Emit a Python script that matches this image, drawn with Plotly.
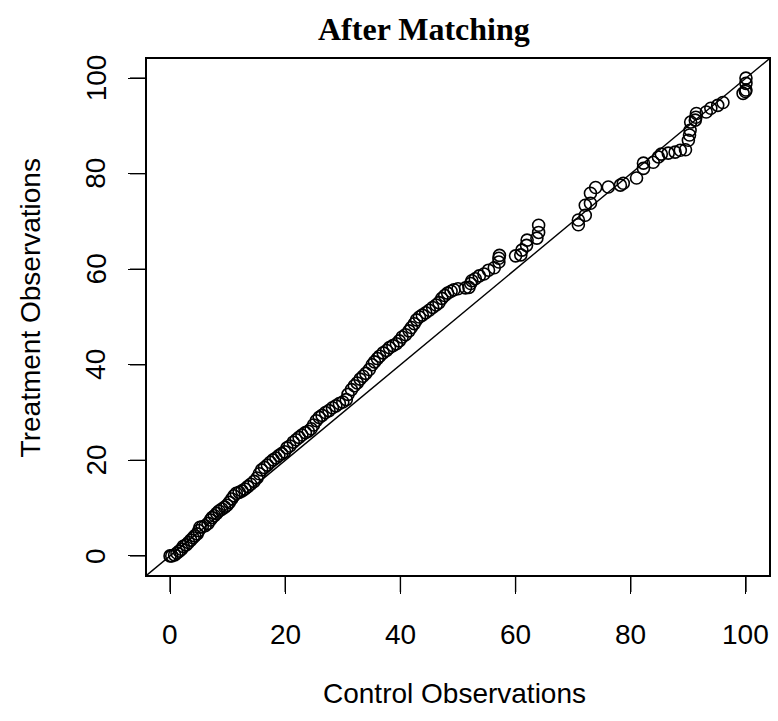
import plotly.graph_objects as go

# Sorted quantiles (QQ plot): control vs treatment
control = [0, 0.3, 0.8, 1.2, 1.6, 2, 2.3, 2.8, 3.2, 3.6, 4, 4.3, 4.7, 5, 5.2, 5.6, 6.1, 6.6, 7, 7.3,
           7.7, 8.1, 8.5, 9, 9.5, 9.9, 10.3, 10.7, 11.1, 11.5, 12, 12.5, 13, 13.5, 14, 14.6, 15.1, 15.5,
           15.9, 16.4, 16.9, 17.4, 17.9, 18.4, 18.9, 19.4, 19.9, 20.3, 20.8, 21.4, 21.9, 22.4, 22.9,
           23.5, 24, 24.5, 24.9, 25.4, 25.9, 26.4, 27, 27.6, 28.2, 28.8, 29.4, 30, 30.6, 30.9, 31.5,
           32, 32.5, 33, 33.5, 34, 34.6, 35.1, 35.5, 36, 36.4, 37, 37.6, 38.1, 38.7, 39.3, 39.8, 40.3,
           40.9, 41.5, 41.9, 42.4, 42.8, 43.3, 43.8, 44.4, 45, 45.6, 46.2, 46.7, 47.2, 47.7, 48.2,
           48.8, 49.3, 50, 51.3, 51.9, 52.2, 52.4, 53, 53.7, 54.5, 55.3, 56.3, 57.1, 57.1, 57.2,
           60.0, 60.9, 61.1, 61.9, 62.0, 63.7, 64.0, 64.0, 70.9, 70.9, 72.1, 72.1, 73.0, 73.0, 73.9,
           76.1, 78.2, 78.7, 81.0, 82.2, 82.2, 83.9, 84.8, 85.3, 86.5, 87.7, 88.6, 89.5, 90.0, 90.2,
           90.3, 90.4, 91.2, 91.3, 91.4, 93.1, 93.9, 95.1, 96.0, 99.5, 99.9, 100, 100, 100]
treatment = [0, 0, 0.2, 0.6, 1, 1.4, 2, 2.3, 2.8, 3.3, 3.8, 4.2, 4.6, 5.3, 6, 6.1, 6.3, 6.8, 7.5, 8,
             8.4, 8.9, 9.4, 9.8, 10.2, 10.6, 11.2, 11.9, 12.6, 13.1, 13.3, 13.6, 14, 14.5, 15, 15.6,
             16.3, 17.2, 18, 18.5, 19, 19.6, 20.1, 20.5, 21, 21.4, 21.8, 22.6, 23, 23.8, 24.3, 24.8,
             25.3, 25.8, 26.1, 26.6, 27.4, 28.3, 29, 29.4, 30, 30.4, 31, 31.4, 31.9, 32.2, 32.7, 33.8,
             34.8, 35.6, 36.2, 37, 37.6, 38.2, 39, 40, 40.6, 41.3, 41.8, 42.5, 43, 43.6, 44, 44.4, 45,
             45.8, 46.3, 47.1, 47.8, 48.6, 49.4, 50, 50.4, 50.9, 51.4, 52, 52.5, 53, 53.9, 54.5, 55,
             55.4, 55.7, 55.9, 56.1, 56.2, 57, 57.6, 58, 58.6, 59, 59.8, 60.3, 61.5, 62.3, 62.9,
             62.8, 63.0, 64.0, 65.0, 66.1, 66.5, 67.7, 69.2, 69.3, 70.3, 71.3, 73.4, 73.8, 75.9, 77.1,
             77.2, 77.6, 78.0, 79.1, 81.1, 82.2, 82.4, 83.5, 84.1, 84.3, 84.5, 84.9, 85.0, 87.0, 88.1,
             89.1, 90.8, 91.2, 91.8, 92.6, 92.9, 93.7, 94.3, 94.9, 96.8, 97.2, 97.5, 98.9, 100]
tick_vals = [0, 20, 40, 60, 80, 100]
tick_text = ["0", "20", "40", "60", "80", "100"]
axis_range = [-4, 104]

W, H = 778, 721
L, R, T, B = 147, 7, 59, 146
TICK_LEN = 17


def py(p):
    return (H - B - p) / (H - B - T)


def px(p):
    return (p - L) / (W - L - R)


fig = go.Figure()
fig.add_trace(go.Scatter(
    x=control, y=treatment, mode="markers",
    marker=dict(symbol="circle-open", size=12, color="black", line=dict(width=1.6, color="black")),
    showlegend=False, cliponaxis=False))

# abline(0, 1) across the full axis range
fig.add_shape(type="line", xref="x", yref="y",
              x0=axis_range[0], y0=axis_range[0], x1=axis_range[1], y1=axis_range[1],
              line=dict(color="black", width=1.4))

axfont = dict(family="Liberation Sans, Arial, sans-serif", size=28, color="black")
hidden_font = dict(family="Liberation Sans, Arial, sans-serif", size=28, color="rgba(0,0,0,0)")
common = dict(range=axis_range, tickvals=tick_vals, ticktext=tick_text, ticks="outside",
              ticklen=TICK_LEN, tickwidth=1.4, tickcolor="black", showline=True, mirror=True,
              linecolor="black", linewidth=1.5, showgrid=False, zeroline=False,
              tickfont=hidden_font)
fig.update_xaxes(**common)
fig.update_yaxes(**common, tickangle=-90)

# outward tick marks (pixel length) and tick labels placed further out, as in base R
for v, t in zip(tick_vals, tick_text):
    fig.add_shape(type="line", xref="x", yref="paper", ysizemode="pixel", yanchor=0,
                  x0=v, x1=v, y0=0, y1=-TICK_LEN, line=dict(color="black", width=1.4),
                  layer="above")
    fig.add_shape(type="line", xref="paper", yref="y", xsizemode="pixel", xanchor=0,
                  x0=0, x1=-TICK_LEN, y0=v, y1=v, line=dict(color="black", width=1.4),
                  layer="above")
    fig.add_annotation(text=t, xref="x", yref="paper", x=v, y=py(634),
                       xanchor="center", yanchor="middle", showarrow=False, font=axfont)
    fig.add_annotation(text=t, xref="paper", yref="y", x=px(96), y=v, textangle=-90,
                       xanchor="center", yanchor="middle", showarrow=False, font=axfont)

fig.add_annotation(text="<b>After Matching</b>", xref="paper", yref="paper",
                   x=px(425), y=py(29), xanchor="center", yanchor="middle", showarrow=False,
                   font=dict(family="Liberation Serif, Times New Roman, serif", size=32, color="black"))
fig.add_annotation(text="Control Observations", xref="paper", yref="paper",
                   x=px(455), y=py(693), xanchor="center", yanchor="middle", showarrow=False,
                   font=axfont)
fig.add_annotation(text="Treatment Observations", xref="paper", yref="paper",
                   x=px(30), y=py(308), xanchor="center", yanchor="middle", showarrow=False,
                   textangle=-90, font=axfont)

fig.update_layout(width=W, height=H, margin=dict(l=L, r=R, t=T, b=B, pad=0),
                  paper_bgcolor="white", plot_bgcolor="white")

fig.write_html("out.html")
